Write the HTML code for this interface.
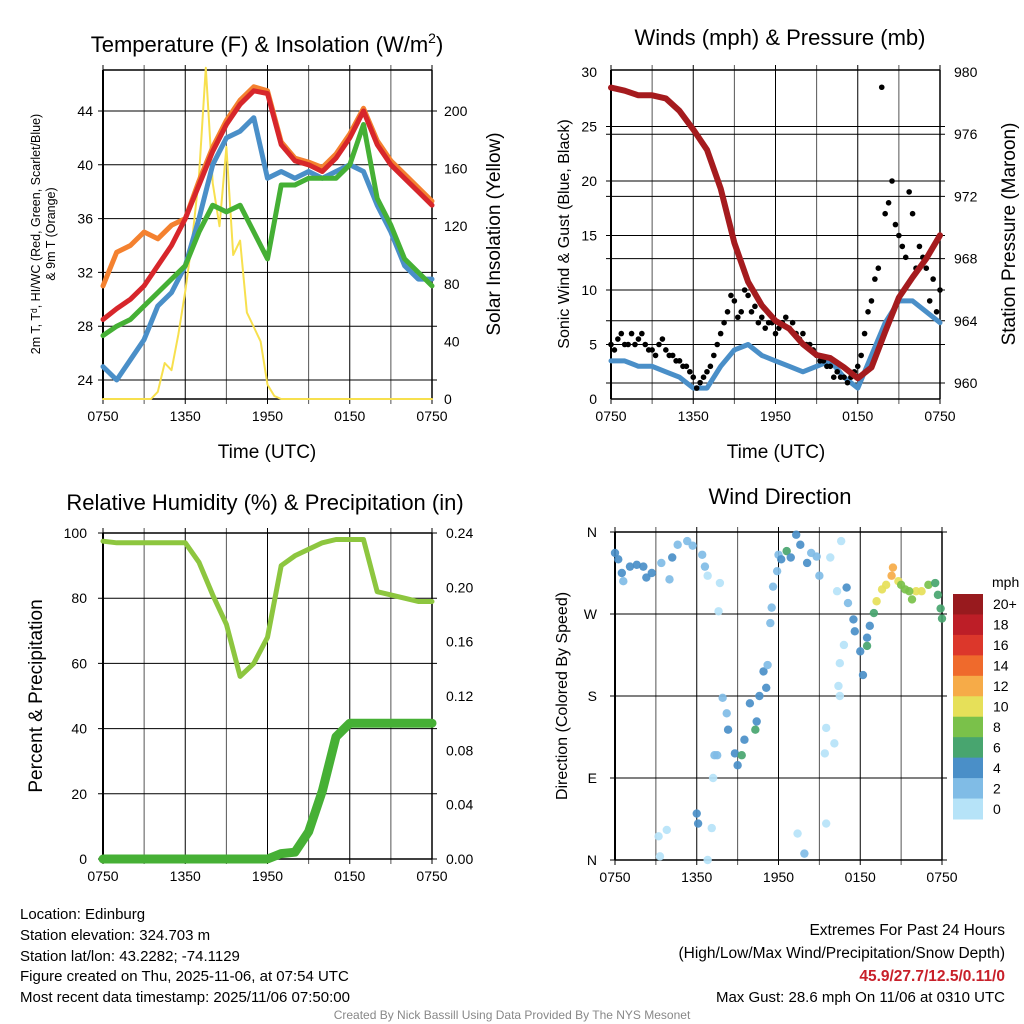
<!DOCTYPE html>
<html><head><meta charset="utf-8"><style>
body{margin:0;background:#fff;}
svg{display:block;font-family:"Liberation Sans",sans-serif;}
</style></head><body>
<svg id="c" width="1024" height="1024" viewBox="0 0 1024 1024"></svg>
<script>
// ---- data (time in hours from 0750 UTC) ----
const hourTimes=[0,1,2,3,4,5,6,7,8,9,10,11,12,13,14,15,16,17,18,19,20,21,22,23,24];
const xTickLabels=["0750","1350","1950","0150","0750"];
const tempTicks=[24,28,32,36,40,44];
const solarTicks=[0,40,80,120,160,200];
const tempRed=[28.5,29.3,30,31,32.5,34,36,38.5,41,43,44.5,45.5,45.3,41.5,40.3,40,39.5,40.5,42,44,41.5,40,39,38,37];
const tempOrange=[31,33.5,34,35,34.5,35.5,36,38.8,41.3,43.3,44.8,45.8,45.5,41.7,40.5,40.2,39.8,40.8,42.3,44.2,41.8,40.3,39.3,38.3,37.3];
const tempGreen=[27.3,28,28.5,29.5,30.5,31.5,32.5,35,37,36.5,37,35,33,38.5,38.5,39,39,39,40,43,37.5,35.5,33,32,31];
const tempBlue=[25,24,25.5,27,29.5,30.5,32.5,36,40,42,42.5,43.5,39,39.5,39,39.5,39,39.5,40,39.5,37,35,32.5,31.5,31.5];
const solarTimes=[0,3,3.5,4,4.5,5,5.5,6,6.5,7,7.5,8,8.5,9,9.5,10,10.5,11,11.5,12,12.5,13,24];
const solarVals=[0,0,0,5,25,20,45,75,110,155,230,150,120,175,100,110,60,50,40,10,2,0,0];
const windTicks=[0,5,10,15,20,25,30];
const presTicks=[960,964,968,972,976,980];
const pressure=[979,978.8,978.5,978.5,978.3,977.5,976.3,975,972.5,969,966.5,965,964,963.5,962.5,961.8,961.6,961,960.3,961,963.3,965.5,966.8,968,969.5];
const windSpeed=[3.5,3.5,3,3,2.5,2,1,1,3,4.5,5,4,3.5,3,2.5,3,3.5,2,1,4,7,9,9,8,7];
const gust=[5,5.5,5,6,5.5,5,4.5,5,4.5,4,3.5,3,2,1.5,2.5,4,6,8,9,8,9.5,8.5,7.5,7,6,7,6.5,6,6,5,4,3.5,3,2.5,2,2,3,6,9,12,17,20,15,13,17,14,12,11,10];
const gust2=[4.5,6,5,5,6,4.5,4,5.5,4,3.5,3,2.5,1,2,3,5,7,9.5,7.5,10,8,7,6.5,7,6.5,7.5,7,5.5,5,4.5,3.5,3,2,2,1.5,2.5,4,8,11,28.6,18,16,14,19,12,13,9,8];
const rhTicks=[0,20,40,60,80,100];
const precipTicks=["0.00","0.04","0.08","0.12","0.16","0.20","0.24"];
const rh=[97.5,97,97,97,97,97,97,91,81,72,56,60,68,90,93,95,97,98,98,98,82,81,80,79,79];
const precip=[0,0,0,0,0,0,0,0,0,0,0,0,0,0.004,0.005,0.02,0.05,0.09,0.1,0.1,0.1,0.1,0.1,0.1,0.1];
const dirLabels=["N","E","S","W","N"];
const dirTimes=[0,0.24,0.5,0.61,1.1,1.6,2.08,2.3,2.7,3.4,4.0,4.2,4.6,5.3,5.7,6.4,6.6,6.8,7.7,7.6,3.2,3.8,3.3,6.0,6.1,7.1,6.8,7.2,7.3,7.5,7.9,8.2,8.3,8.8,9.0,9.3,9.5,9.9,10.3,10.4,10.6,10.9,11.1,11.2,11.4,11.5,11.6,11.9,12.0,12.2,12.6,12.9,13.3,13.6,14.1,14.4,14.8,15.0,15.8,16.6,16.3,17.0,17.1,17.5,17.6,18.0,18.2,16.8,16.5,16.4,16.5,15.5,16.1,15.4,15.5,13.4,13.9,18.5,18.7,18.5,19.0,19.2,19.6,19.9,20.3,20.4,20.8,21.3,21.8,22.1,22.5,23.0,23.5,23.7,23.9,24.0,21.6,21.0];
const dirVals=[337,330,315,306,322,324,322,310,315,326,308,332,346,350,345,335,322,312,304,273,26,33,4,51,40,35,0,90,115,115,178,161,143,117,104,115,132,172,143,152,180,207,189,214,260,277,300,317,335,330,339,332,357,346,326,337,333,312,332,350,295,299,282,264,251,229,203,236,216,191,180,145,128,117,40,29,7,244,257,235,271,284,297,302,312,321,306,297,286,295,295,302,304,291,276,265,295,302];
const dirSpeed=[4.5,4.5,4.5,2.5,4.5,4.5,4.5,4.5,4.5,2.5,2.5,4.5,2.5,2.5,2.5,2.5,2.5,0.5,0.5,0.5,0.5,0.5,0.5,4.5,4.5,0.5,0.5,0.5,2.5,2.5,2.5,2.5,4.5,4.5,4.5,6.5,4.5,4.5,6.5,4.5,4.5,4.5,4.5,2.5,2.5,2.5,2.5,2.5,2.5,4.5,6.5,4.5,4.5,4.5,4.5,2.5,2.5,2.5,0.5,0.5,0.5,4.5,2.5,4.5,4.5,4.5,4.5,0.5,0.5,0.5,0.5,0.5,0.5,0.5,0.5,0.5,2.5,4.5,4.5,6.5,6.5,10.5,10.5,10.5,12.5,12.5,10.5,8.5,8.5,10.5,10.5,8.5,6.5,6.5,6.5,6.5,8.5,8.5];
const cbLabels=["20+","18","16","14","12","10","8","6","4","2","0"];
const cbColors=["#981a1e","#bd1e27","#dc372b","#ef6a2c","#f6ab48","#e6e059","#7ac14a","#48a56f","#4a8fc8","#80bce6","#b6e3f8"];

// ---- helpers ----
const S=document.getElementById('c');const NS="http://www.w3.org/2000/svg";
function el(tag,attrs,parent){const e=document.createElementNS(NS,tag);for(const k in attrs)e.setAttribute(k,attrs[k]);(parent||S).appendChild(e);return e;}
function txt(x,y,s,size,anchor,extra){const t=el('text',Object.assign({x:x,y:y,'font-size':size,'text-anchor':anchor||'middle',fill:'#000'},extra||{}));t.textContent=s;return t;}
function linear(d0,d1,r0,r1){return v=>r0+(v-d0)/(d1-d0)*(r1-r0);}
function frame(x0,x1,y0,y1,name,hLinesY){
  const g=el('g',{});
  for(let i=0;i<=8;i++){const x=x0+(x1-x0)*i/8;el('line',{x1:x,x2:x,y1:y0-5,y2:y1+5,stroke:i%2?'#555':'#000','stroke-width':1},g);}
  hLinesY.forEach(y=>el('line',{x1:x0-5,x2:x1+5,y1:y,y2:y,stroke:'#000','stroke-width':1},g));
  el('line',{x1:x0,x2:x0,y1:y0,y2:y1,stroke:'#000','stroke-width':2},g);
  el('line',{x1:x0,x2:x1,y1:y0,y2:y0,stroke:'#000','stroke-width':1.5},g);
  el('line',{x1:x0,x2:x1,y1:y1,y2:y1,stroke:'#000','stroke-width':1.5},g);
  el('line',{x1:x1,x2:x1,y1:y0,y2:y1,stroke:'#000','stroke-width':1.5},g);
  xTickLabels.forEach((l,i)=>{const t=txt(x0+(x1-x0)*i/4,y1+22,l,14);});
  return g;
}
function path(xs,ys,xf,yf,color,w,name){
  const d=xs.map((t,i)=>(i?'L':'M')+xf(t).toFixed(1)+','+yf(ys[i]).toFixed(1)).join('');
  const p=el('path',{d:d,fill:'none',stroke:color,'stroke-width':w,'stroke-linejoin':'round','stroke-linecap':'round'});
  return p;
}

// ---- Panel 1 ----
{const x0=103,x1=432,y0=70,y1=399;
const X=linear(0,24,x0,x1),T=linear(24,44,380,111),Sy=linear(0,200,399,111);
frame(x0,x1,y0,y1,'temperature-plot-frame',tempTicks.map(T));
tempTicks.forEach(v=>{const t=txt(x0-10,T(v)+5,String(v),14,'end');});
solarTicks.forEach(v=>{const t=txt(x1+12,Sy(v)+5,String(v),14,'start');});
path(solarTimes,solarVals,X,Sy,'#f7e04e',2,'solar-line');
path(hourTimes,tempOrange,X,T,'#f4812f',5,'temp-9m-line');
path(hourTimes,tempBlue,X,T,'#4a8fc8',5,'dewpoint-line');
path(hourTimes,tempGreen,X,T,'#45b035',5,'heat-index-line');
path(hourTimes,tempRed,X,T,'#d7262b',5,'temp-2m-line');
let t=txt(267,52,'Temperature (F) & Insolation (W/m',22);
const ts=el('tspan',{'font-size':14,dy:-9});ts.textContent='2';t.appendChild(ts);const tc=el('tspan',{dy:9});tc.textContent=')';t.appendChild(tc);
t=txt(267,458,'Time (UTC)',19);
t=txt(0,0,'2m T, T\u1D48, HI/WC (Red, Green, Scarlet/Blue)',12.5,'middle',{transform:'translate(40,234) rotate(-90)'});
t=txt(0,0,'& 9m T (Orange)',12.5,'middle',{transform:'translate(55,234) rotate(-90)'});
t=txt(0,0,'Solar Insolation (Yellow)',19,'middle',{transform:'translate(500,234) rotate(-90)'});
}
// ---- Panel 2 ----
{const x0=611,x1=940,y0=70,y1=399;
const X=linear(0,24,x0,x1),W=linear(0,30,399,72),P=linear(960,980,383,72);
frame(x0,x1,y0,y1,'wind-plot-frame',windTicks.map(W).slice(1,-1).concat(presTicks.map(P).slice(0,-1)));
windTicks.forEach(v=>{const t=txt(x0-14,W(v)+5,String(v),14,'end');});
presTicks.forEach(v=>{const t=txt(x1+14,P(v)+5,String(v),14,'start');});
path(hourTimes,windSpeed,X,W,'#4a8fc8',5,'wind-speed-line');
gust.forEach((g,i)=>{const c=el('circle',{cx:X(i*0.5),cy:W(g),r:2.8,fill:'#000'});});
gust2.forEach((g,i)=>{const c=el('circle',{cx:X(0.25+i*0.5),cy:W(g),r:2.8,fill:'#000'});});
path(hourTimes,pressure,X,P,'#a51b1e',6,'pressure-line');
let t=txt(780,45,'Winds (mph) & Pressure (mb)',22);
t=txt(776,458,'Time (UTC)',19);
t=txt(0,0,'Sonic Wind & Gust (Blue, Black)',16,'middle',{transform:'translate(569,234) rotate(-90)'});
t=txt(0,0,'Station Pressure (Maroon)',19,'middle',{transform:'translate(1015,234) rotate(-90)'});
}
// ---- Panel 3 ----
{const x0=103,x1=432,y0=533,y1=859;
const X=linear(0,24,x0,x1),R=linear(0,100,859,533),Pr=linear(0,0.24,859,533);
frame(x0,x1,y0,y1,'humidity-plot-frame',rhTicks.map(R));
rhTicks.forEach(v=>{const t=txt(x0-16,R(v)+5,String(v),14,'end');});
precipTicks.forEach(v=>{const t=txt(x1+14,Pr(+v)+5,v,14,'start');});
path(hourTimes,rh,X,R,'#8dc63f',5,'humidity-line');
path(hourTimes,precip,X,Pr,'#46b035',9,'precip-line');
let t=txt(265,510,'Relative Humidity (%) & Precipitation (in)',22);
t=txt(0,0,'Percent & Precipitation',19,'middle',{transform:'translate(42,696) rotate(-90)'});
}
// ---- Panel 4 ----
{const x0=615,x1=942,y0=532,y1=860;
const X=linear(0,24,x0,x1),D=linear(0,360,860,532);
frame(x0,x1,y0,y1,'direction-plot-frame',[0,90,180,270,360].map(D));
dirLabels.forEach((l,i)=>{const t=txt(x0-18,D(i*90)+5,l,14,'end');});
const col=s=>cbColors[10-Math.min(10,Math.floor(s/2))];
dirTimes.forEach((tm,i)=>{const c=el('circle',{cx:X(tm),cy:D(dirVals[i]),r:4.2,fill:col(dirSpeed[i]),'fill-opacity':0.92});});
let t=txt(780,504,'Wind Direction',22);
t=txt(0,0,'Direction (Colored By Speed)',16,'middle',{transform:'translate(567,696) rotate(-90)'});
const cbY0=594,cbH=225/11;
cbColors.forEach((c,i)=>{const r=el('rect',{x:953,y:cbY0+i*cbH,width:30,height:cbH+0.5,fill:c});
 const l=txt(993,cbY0+i*cbH+cbH/2+5,cbLabels[i],14,'start');});
t=txt(992,587,'mph',14,'start');
}
// ---- footer text ----
[["Location: Edinburg",919],["Station elevation: 324.703 m",940],["Station lat/lon: 43.2282; -74.1129",961],["Figure created on Thu, 2025-11-06, at 07:54 UTC",981],["Most recent data timestamp: 2025/11/06 07:50:00",1002]].forEach(a=>{const t=txt(20,a[1],a[0],15,'start');});
let t=txt(1005,935,'Extremes For Past 24 Hours',15.5,'end');
t=txt(1005,958,'(High/Low/Max Wind/Precipitation/Snow Depth)',15.5,'end');
t=txt(1005,981,'45.9/27.7/12.5/0.11/0',15.5,'end',{fill:'#c8202a','font-weight':'bold'});
t=txt(1005,1002,'Max Gust: 28.6 mph On 11/06 at 0310 UTC',15,'end');
t=txt(512,1019,'Created By Nick Bassill Using Data Provided By The NYS Mesonet',12,'middle',{fill:'#888'});
</script>
</body></html>
